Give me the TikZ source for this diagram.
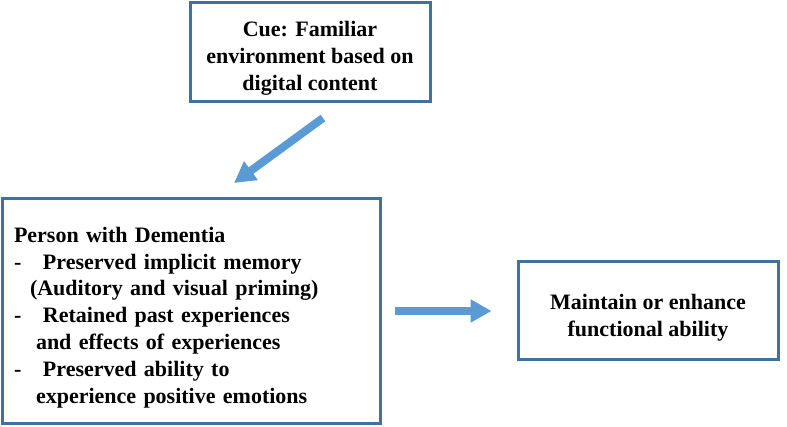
\documentclass[tikz,border=0pt]{standalone}
\usepackage{fontspec}
\setmainfont{Liberation Serif}
\usetikzlibrary{arrows.meta,positioning}
\definecolor{boxline}{HTML}{41719C}
\definecolor{arrowfill}{HTML}{5B9BD5}
\newcommand{\firstline}{\rule{0pt}{28pt}}

\begin{document}
\begin{tikzpicture}[x=1pt,y=-1pt,line cap=butt,
	box/.style={draw=boxline,line width=3pt,inner sep=0pt,
		font=\fontsize{22}{26.8}\selectfont\bfseries},
	bigarrow/.style={draw=arrowfill,line width=8pt,
		-{Triangle[length=21pt,width=22pt]}}]
	
	% ---- 画布 ----
	\useasboundingbox (0,0) rectangle (787,427);
	
	% ---- 提示框 ----
	\node[box,minimum width=240pt,minimum height=99pt,align=center]
	(cue) at (310,52) {\firstline Cue: Familiar\\environment based on\\digital content};
	
	% ---- 患者框 ----
	\node[box,minimum height=224pt,inner xsep=12pt,text width=354pt,align=left]
	(person) at (191,311) {\firstline Person with Dementia\\
		\makebox[29pt][l]{-}Preserved implicit memory\\
		\hspace*{16pt}(Auditory and visual priming)\\
		\makebox[29pt][l]{-}Retained past experiences\\
		\hspace*{22pt}and effects of experiences\\
		\makebox[29pt][l]{-}Preserved ability to\\
		\hspace*{22pt}experience positive emotions};
	
	% ---- 结果框 ----
	\node[box,minimum width=260pt,minimum height=98pt,align=center]
	(result) at (648,311) {\firstline Maintain or enhance\\functional ability};
	
	% ---- 箭头 ----
	\coordinate (cuetail) at (323,118);
	\coordinate (cuetip) at (234,183);
	\draw[bigarrow] (cuetail) -- (cuetip);
	
	\draw[bigarrow] ([xshift=13pt]person.east) -- ([xshift=-25pt]result.west);
	
\end{tikzpicture}
\end{document}
